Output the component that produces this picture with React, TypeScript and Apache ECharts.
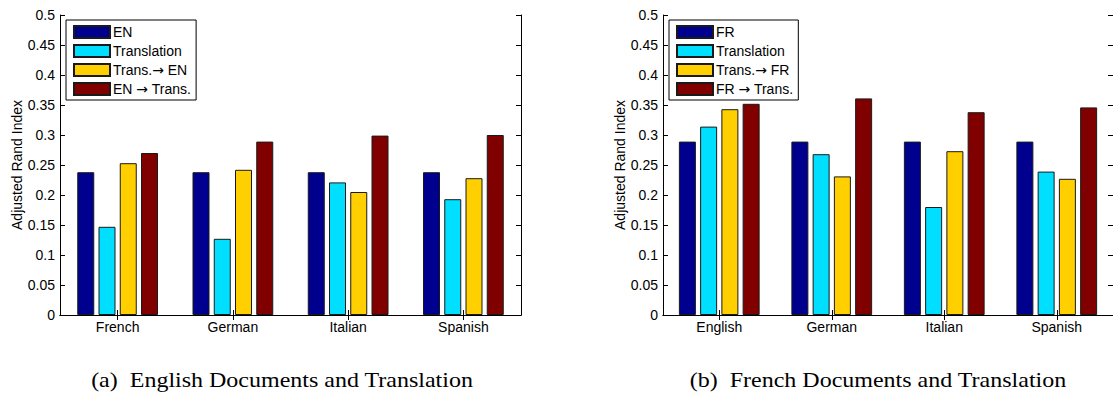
import React, { useEffect, useRef } from "react";
import * as echarts from "echarts";

// Languages on the x axis of each panel
const categoriesEn = ["French", "German", "Italian", "Spanish"];
const categoriesFr = ["English", "German", "Italian", "Spanish"];

// Series names shown in the legends
const namesEn = ["EN", "Translation", "Trans.\u2192 EN", "EN \u2192 Trans."];
const namesFr = ["FR", "Translation", "Trans.\u2192 FR", "FR \u2192 Trans."];

// Adjusted Rand Index, English documents panel
const enOriginal = [0.238, 0.238, 0.238, 0.238];
const enTranslation = [0.147, 0.127, 0.221, 0.193];
const enTransToEn = [0.253, 0.242, 0.205, 0.228];
const enToTrans = [0.27, 0.289, 0.299, 0.3];

// Adjusted Rand Index, French documents panel
const frOriginal = [0.289, 0.289, 0.289, 0.289];
const frTranslation = [0.314, 0.268, 0.18, 0.239];
const frTransToFr = [0.343, 0.231, 0.273, 0.227];
const frToTrans = [0.352, 0.361, 0.338, 0.346];

const yTicks = { min: 0, max: 0.5, interval: 0.05 };

const captions = [
  "(a)  English Documents and Translation",
  "(b)  French Documents and Translation",
];

const COLORS = ["#00008f", "#00dfff", "#ffcf00", "#800000"];
const SANS = "'Liberation Sans', Arial, Helvetica, sans-serif";
const SERIF = "'Liberation Serif', 'Times New Roman', serif";

function buildOption() {
  const grids = [
    { left: 60, top: 15, width: 461, height: 300 },
    { left: 663, top: 15, width: 464, height: 300 },
  ];

  const xAxes: any[] = [];
  const yAxes: any[] = [];
  [categoriesEn, categoriesFr].forEach((cats, g) => {
    xAxes.push({
      type: "category",
      gridIndex: g,
      data: cats,
      position: "bottom",
      axisLine: { show: true, lineStyle: { color: "#000", width: 1 } },
      axisTick: { show: true, inside: true, alignWithLabel: true, length: 5, lineStyle: { color: "#000" } },
      axisLabel: { color: "#000", fontSize: 14, fontFamily: SANS, margin: 5 },
      splitLine: { show: false },
    });
    xAxes.push({
      type: "category",
      gridIndex: g,
      data: cats,
      position: "top",
      axisLine: { show: true, lineStyle: { color: "#000", width: 1 } },
      axisTick: { show: true, inside: true, alignWithLabel: true, length: 5, lineStyle: { color: "#000" } },
      axisLabel: { show: false },
      splitLine: { show: false },
    });
    yAxes.push({
      type: "value",
      gridIndex: g,
      position: "left",
      ...yTicks,
      name: "Adjusted Rand Index",
      nameLocation: "middle",
      nameGap: g === 0 ? 33 : 35,
      nameTextStyle: { color: "#000", fontSize: 14, fontFamily: SANS },
      axisLine: { show: true, lineStyle: { color: "#000", width: 1 } },
      axisTick: { show: true, inside: true, length: 5, lineStyle: { color: "#000" } },
      axisLabel: { color: "#000", fontSize: 14, fontFamily: SANS, margin: 5 },
      splitLine: { show: false },
    });
    yAxes.push({
      type: "value",
      gridIndex: g,
      position: "right",
      ...yTicks,
      axisLine: { show: true, lineStyle: { color: "#000", width: 1 } },
      axisTick: { show: true, inside: true, length: 5, lineStyle: { color: "#000" } },
      axisLabel: { show: false },
      splitLine: { show: false },
    });
  });

  const panels = [
    { names: namesEn, values: [enOriginal, enTranslation, enTransToEn, enToTrans] },
    { names: namesFr, values: [frOriginal, frTranslation, frTransToFr, frToTrans] },
  ];

  const series: any[] = [];
  panels.forEach((p, g) => {
    p.values.forEach((vals, i) => {
      series.push({
        type: "bar",
        name: p.names[i],
        xAxisIndex: g * 2,
        yAxisIndex: g * 2,
        data: vals,
        barWidth: 17,
        barGap: "25%",
        itemStyle: { color: COLORS[i], borderColor: "#1a1a1a", borderWidth: 1 },
        emphasis: { disabled: true },
      });
    });
  });

  // the arrow is drawn in a font whose arrow glyph is full width
  const legendBase = {
    orient: "vertical",
    top: 20,
    itemWidth: 36,
    itemHeight: 12,
    itemGap: 5,
    icon: "rect",
    padding: [5, 5, 4, 7],
    borderColor: "#000",
    borderWidth: 1,
    borderRadius: 0,
    backgroundColor: "#fff",
    selectedMode: false,
    formatter: (name: string) => name.replace("\u2192", "{arrow|\u2192}"),
    textStyle: {
      color: "#000",
      fontSize: 14,
      fontFamily: SANS,
      lineHeight: 14,
      padding: [0, 0, 0, -2],
      rich: {
        arrow: { fontFamily: "'DejaVu Sans', sans-serif", fontSize: 14, color: "#000", lineHeight: 14 },
      },
    },
  };

  const captionStyle = (text: string) => ({
    text,
    fill: "#000",
    font: `20px ${SERIF}`,
    textAlign: "center",
    textVerticalAlign: "middle",
  });

  return {
    animation: false,
    backgroundColor: "#fff",
    grid: grids,
    xAxis: xAxes,
    yAxis: yAxes,
    legend: [
      { ...legendBase, left: 66, data: namesEn },
      { ...legendBase, left: 669, data: namesFr },
    ],
    series,
    graphic: [
      { type: "text", x: 282, y: 380, scaleX: 1.2, style: captionStyle(captions[0]) },
      { type: "text", x: 878, y: 380, scaleX: 1.2, style: captionStyle(captions[1]) },
    ],
  };
}

export default function App() {
  const ref = useRef<HTMLDivElement>(null);
  useEffect(() => {
    if (!ref.current) return;
    const chart = echarts.init(ref.current, undefined, { renderer: "svg" });
    chart.setOption(buildOption() as any);
    return () => chart.dispose();
  }, []);
  return (
    <div
      ref={ref}
      style={{ position: "fixed", left: 0, top: 0, width: 1113, height: 393, background: "#fff" }}
    />
  );
}
